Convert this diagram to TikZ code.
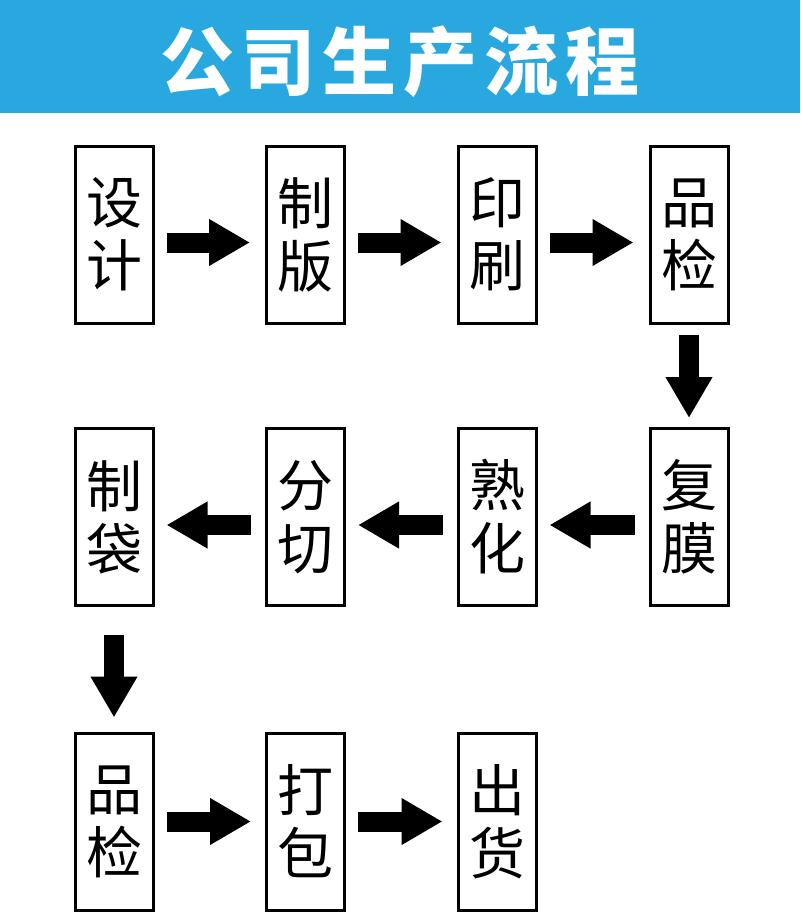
\documentclass[tikz,border=0pt]{standalone}
\usepackage{fontspec}
\setmainfont{Noto Sans CJK SC}
\usetikzlibrary{arrows.meta}
\definecolor{headblue}{HTML}{29A8E0}
\tikzset{
  stepbox/.style={draw=black, line width=3pt, minimum width=78pt, minimum height=177pt,
    inner sep=0pt, align=center, font=\fontsize{56}{63}\selectfont},
  bigarrow/.style={line width=20pt, -{Triangle[length=41pt,width=44pt]}, black}
}
\begin{document}
\begin{tikzpicture}[x=1pt,y=-1pt]
\useasboundingbox (0,0) rectangle (800,915);
\fill[headblue] (0,0) rectangle (800,113);
\node[text=white, font=\fontsize{74}{80}\selectfont\bfseries] (title) at (400,62) {公\kern7pt 司\kern7pt 生\kern7pt 产\kern7pt 流\kern7pt 程};
% row 1
\node[stepbox] (a1) at (114,234.5) {设\\计};
\node[stepbox] (a2) at (305.5,234.5) {制\\版};
\node[stepbox] (a3) at (497,234.5) {印\\刷};
\node[stepbox] (a4) at (689,234.5) {品\\检};
% row 2
\node[stepbox] (b4) at (689,517) {复\\膜};
\node[stepbox] (b3) at (497,517) {熟\\化};
\node[stepbox] (b2) at (305.5,517) {分\\切};
\node[stepbox] (b1) at (114,517) {制\\袋};
% row 3
\node[stepbox] (c1) at (114,821.5) {品\\检};
\node[stepbox] (c2) at (305.5,821.5) {打\\包};
\node[stepbox] (c3) at (497,821.5) {出\\货};
% arrows
\draw[bigarrow] ([xshift=12pt,yshift=-8pt]a1.east) -- ([xshift=-15pt,yshift=-8pt]a2.west);
\draw[bigarrow] ([xshift=12pt,yshift=-8pt]a2.east) -- ([xshift=-15pt,yshift=-8pt]a3.west);
\draw[bigarrow] ([xshift=12pt,yshift=-8pt]a3.east) -- ([xshift=-15pt,yshift=-8pt]a4.west);
\draw[bigarrow] ([yshift=-10pt]a4.south) -- ([yshift=9pt]b4.north);
\draw[bigarrow] ([xshift=-14pt,yshift=-8pt]b4.west) -- ([xshift=12pt,yshift=-8pt]b3.east);
\draw[bigarrow] ([xshift=-14pt,yshift=-8pt]b3.west) -- ([xshift=12pt,yshift=-8pt]b2.east);
\draw[bigarrow] ([xshift=-14pt,yshift=-8pt]b2.west) -- ([xshift=12pt,yshift=-8pt]b1.east);
\draw[bigarrow] ([yshift=-28pt]b1.south) -- ([yshift=14pt]c1.north);
\draw[bigarrow] ([xshift=12pt]c1.east) -- ([xshift=-14pt]c2.west);
\draw[bigarrow] ([xshift=12pt]c2.east) -- ([xshift=-14pt]c3.west);
\end{tikzpicture}
\end{document}
